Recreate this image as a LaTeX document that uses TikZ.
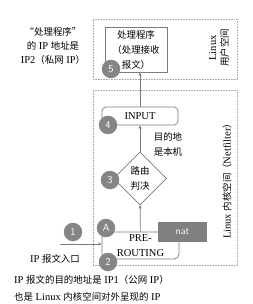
\documentclass[tikz,border=0pt]{standalone}
\usepackage{fontspec}
\setmainfont{Liberation Serif}
\newfontfamily\cjk[Scale=0.9]{Noto Sans CJK SC}
\newcommand\zh[1]{{\cjk #1}}
\usetikzlibrary{shapes.geometric,arrows.meta}
\definecolor{linegray}{HTML}{7A7A7A}
\definecolor{circgray}{HTML}{858585}
\definecolor{natgray}{HTML}{808080}
\definecolor{zonegray}{HTML}{A8A8A8}
\tikzset{
  zone/.style={draw=zonegray, densely dotted, line width=0.6pt, inner sep=0},
  box/.style={draw=linegray, line width=0.7pt, fill=white},
  num/.style={circle, fill=circgray, text=white, inner sep=0, minimum size=18.5pt, font=\sffamily\fontsize{10.5}{10.5}\selectfont},
  conn/.style={draw=linegray, line width=0.7pt},
  arr/.style={conn, -{Stealth[length=3.5pt,width=3pt]}},
  lbl/.style={align=center, inner sep=0}
}
\begin{document}
\begin{tikzpicture}[x=1pt,y=-1pt,font=\fontsize{10.5}{15}\selectfont]
\useasboundingbox (0,0) rectangle (252,304);
% zones
\node[zone, minimum width=144pt, minimum height=60pt] (user) at (165,49) {};
\node[zone, minimum width=144pt, minimum height=175pt] (kern) at (165,177.5) {};
\node[rotate=90, lbl, font=\fontsize{10.5}{12}\selectfont] (ulab) at (219,48) {Linux\\\zh{用户空间}};
\node[rotate=90, lbl] (klab) at (227,179) {Linux \zh{内核空间（}Netfilter\zh{）}};
% main nodes
\node[box, minimum width=62pt, minimum height=45pt, lbl] (proc) at (136,49.5) {\zh{处理程序}\\\zh{（处理接收}\\\zh{报文）}};
\node[box, rounded corners=4pt, minimum width=76pt, minimum height=18pt, lbl] (input) at (140,116) {INPUT};
\node[box, diamond, minimum size=53pt, lbl] (route) at (140,178.5) {\zh{路由}\\\zh{判决}};
\node[box, rounded corners=5pt, minimum width=77pt, minimum height=27pt, lbl] (pre) at (140.5,245.5) {PRE-\\ROUTING};
\node[fill=natgray, text=white, minimum width=49pt, minimum height=20pt, inner sep=0, font=\sffamily\fontsize{10}{10}\selectfont] (nat) at (182.5,232) {nat};
% connectors
\coordinate (entry) at (60,244);
\draw[arr] (input.north) -- (input.north |- proc.south);
\draw[arr] (route) -- (input);
\draw[arr] (pre) -- (route);
\draw[arr] (entry) -- (entry -| pre.west);
% numbered circles
\node[num] (n5) at (111,69) {5};
\node[num] (n4) at (108,125) {4};
\node[num] (n3) at (110,180) {3};
\node[num] (nA) at (106,228) {A};
\node[num] (n2) at (108,262) {2};
\node[num] (n1) at (73,232) {1};
% texts
\node[lbl, align=left] (dest) at (168,144.5) {\zh{目的地}\\\zh{是本机}};
\node[lbl, font=\fontsize{10.5}{14}\selectfont] (tl) at (53,46) {\zh{“处理程序”}\\\zh{的} IP \zh{地址是}\\IP2\zh{（私网} IP\zh{）}};
\node[lbl] (entrylbl) at (55,259) {IP \zh{报文入口}};
\node[lbl, align=left, anchor=west, font=\fontsize{10.5}{17}\selectfont] (bottom) at (14,288.5) {IP \zh{报文的目的地址是} IP1\zh{（公网} IP\zh{）}\\\zh{也是} Linux \zh{内核空间对外呈现的} IP};
\end{tikzpicture}
\end{document}
